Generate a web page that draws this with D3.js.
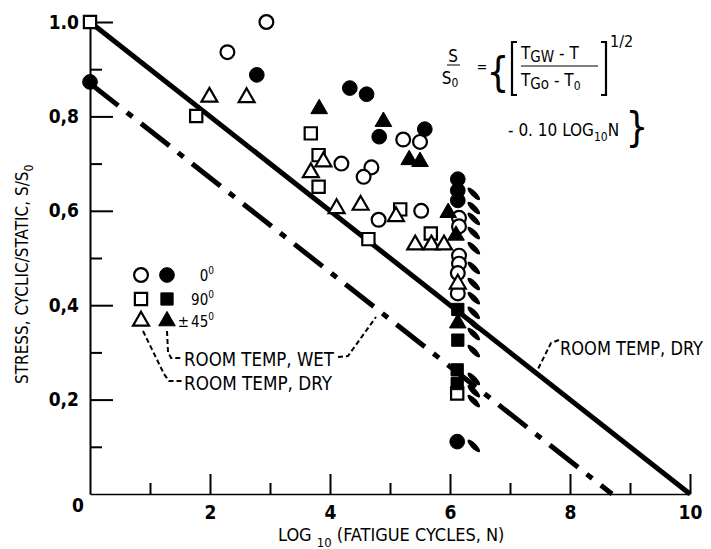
<!DOCTYPE html>
<html><head><meta charset="utf-8">
<script src="https://cdn.jsdelivr.net/npm/d3@7"></script>
<style>
body{margin:0;background:#fff}
svg{display:block}
text{font-family:"DejaVu Sans",sans-serif;font-stretch:condensed;fill:#000;font-weight:bold}
</style>
</head><body><svg id="c" width="711" height="549"></svg>
<script>
// ---- data ----
const xTicksMajor=[2,4,6,8,10];
const xTicksMinor=[1,3,5,7,9];
const yTicksMajor=[0.2,0.4,0.6,0.8,1.0];
const yTickLabels=["0,2","0,4","0,6","0,8","1.0"];
const yTicksMinor=[0.1,0.3,0.5,0.7,0.9];
const lineDry=[[0,1.0],[10,0]];
const lineWet=[[0,0.87],[8.7,0]];
// 0 deg, room temp dry (open circles)
const openCircle=[[2.94,1.0],[2.29,0.936],[4.19,0.700],[4.69,0.692],[4.56,0.672],[5.22,0.751],[5.50,0.746],[4.81,0.581],[5.52,0.600],[6.15,0.585],[6.15,0.567],[6.15,0.505],[6.15,0.488],[6.13,0.468],[6.13,0.425]];
// 0 deg, room temp wet (filled circles)
const filledCircle=[[0,0.873],[2.78,0.888],[4.33,0.860],[4.61,0.847],[4.82,0.757],[5.58,0.773],[6.13,0.667],[6.13,0.643],[6.13,0.622],[6.12,0.111]];
// 90 deg dry (open squares)
const openSquare=[[0,1.0],[1.77,0.801],[3.68,0.764],[3.81,0.718],[3.81,0.651],[4.64,0.540],[5.17,0.603],[5.68,0.552],[6.12,0.213]];
// 90 deg wet (filled squares)
const filledSquare=[[6.13,0.391],[6.13,0.326],[6.12,0.263],[6.12,0.234]];
// +-45 deg dry (open triangles)
const openTriangle=[[1.99,0.841],[2.61,0.840],[3.89,0.704],[3.68,0.681],[4.11,0.605],[4.51,0.612],[5.10,0.588],[5.42,0.528],[5.69,0.528],[5.90,0.528],[6.13,0.445]];
// +-45 deg wet (filled triangles)
const filledTriangle=[[3.82,0.816],[4.89,0.789],[5.32,0.708],[5.50,0.704],[5.97,0.596],[6.10,0.548],[6.13,0.362]];
// run-outs (no failure) at ~10^6.1 cycles
const runoutLogN=6.13;
const runoutStress=[0.638,0.608,0.585,0.555,0.523,0.481,0.447,0.417,0.386,0.362,0.341,0.305,0.246,0.220,0.199,0.104];
const legendPrefix=["","","\u00B1"];
const legendLabels=["0","90","45"];

// ---- chart ----
const svg=d3.select("#c");
const x=d3.scaleLinear().domain([0,10]).range([90,690]);
const y=d3.scaleLinear().domain([0,1]).range([494,22]);

// axes
const gx=svg.append("g").attr("transform",`translate(0,${y(0)})`)
  .call(d3.axisBottom(x).tickValues(xTicksMajor).tickSizeInner(-20).tickSizeOuter(0).tickPadding(12).tickFormat(d3.format("d")));
const gxm=svg.append("g").attr("transform",`translate(0,${y(0)})`)
  .call(d3.axisBottom(x).tickValues(xTicksMinor).tickSizeInner(-11).tickSizeOuter(0).tickFormat(""));
gxm.select(".domain").remove();
const gy=svg.append("g").attr("transform",`translate(${x(0)},0)`)
  .call(d3.axisLeft(y).tickValues(yTicksMajor).tickSizeInner(-23).tickSizeOuter(0).tickPadding(11).tickFormat((d,i)=>yTickLabels[i]));
const gym=svg.append("g").attr("transform",`translate(${x(0)},0)`)
  .call(d3.axisLeft(y).tickValues(yTicksMinor).tickSizeInner(-12).tickSizeOuter(0).tickFormat(""));
gym.select(".domain").remove();
[gx,gxm,gy,gym].forEach(g=>{
  g.attr("font-family",null);
  g.selectAll("line").attr("stroke","#000").attr("stroke-width",2);
  g.selectAll(".domain").attr("stroke","#000").attr("stroke-width",2);
  g.selectAll("text").style("font-size","19px").style("font-family",'"DejaVu Sans",sans-serif').style("font-stretch","condensed").style("font-weight","bold");
});
gx.select(".domain").attr("stroke-width",1.6);
svg.append("text").attr("x",x(0)-6).attr("y",y(0)+18).attr("text-anchor","end").style("font-size","19px").text("0");

// lines
const lg=d3.line().x(d=>x(d[0])).y(d=>y(d[1]));
svg.append("path").attr("d",lg(lineDry)).attr("fill","none").attr("stroke","#000").attr("stroke-width",5);
svg.append("path").attr("d",lg(lineWet)).attr("fill","none").attr("stroke","#000").attr("stroke-width",5)
  .attr("stroke-dasharray","36,11,7,11");

// runout arrows
svg.append("g").selectAll("ellipse").data(runoutStress).join("ellipse")
  .attr("cx",x(runoutLogN)+16).attr("cy",d=>y(d)+1).attr("rx",8.5).attr("ry",2.8)
  .attr("transform",d=>`rotate(45,${x(runoutLogN)+16},${y(d)+1})`).attr("fill","#000");

// markers
const series=[
  {data:openCircle,type:d3.symbolCircle,size:150,fill:false},
  {data:filledCircle,type:d3.symbolCircle,size:170,fill:true},
  {data:openSquare,type:d3.symbolSquare,size:150,fill:false},
  {data:filledSquare,type:d3.symbolSquare,size:150,fill:true},
  {data:openTriangle,type:d3.symbolTriangle,size:110,fill:false},
  {data:filledTriangle,type:d3.symbolTriangle,size:120,fill:true}
];
series.forEach(s=>{
  const sym=d3.symbol().type(s.type).size(s.size);
  svg.append("g").selectAll("path").data(s.data).join("path")
    .attr("d",sym).attr("transform",d=>`translate(${x(d[0])},${y(d[1])})`)
    .attr("fill",s.fill?"#000":"#fff").attr("stroke","#000").attr("stroke-width",s.fill?1:2.2);
});

// legend
const legRows=[{yy:275,o:series[0],f:series[1]},{yy:299,o:series[2],f:series[3]},{yy:321,o:series[4],f:series[5]}];
legRows.forEach((r,i)=>{
  [[141,r.o],[167,r.f]].forEach(([xx,s])=>{
    svg.append("path").attr("d",d3.symbol().type(s.type).size(s.size)()).attr("transform",`translate(${xx},${r.yy})`)
      .attr("fill",s.fill?"#000":"#fff").attr("stroke","#000").attr("stroke-width",s.fill?1:2.2);
  });
  const t=svg.append("text").attr("x",214).attr("y",r.yy+6).attr("text-anchor","end").style("font-size","15px").style("font-weight","normal");
  if(legendPrefix[i]) t.append("tspan").text(legendPrefix[i]);
  t.append("tspan").attr("dx",legendPrefix[i]?2:0).text(legendLabels[i]);
  t.append("tspan").attr("dy",-7).style("font-size","10px").text("0");
});
const dash={fill:"none",stroke:"#000","stroke-width":2,"stroke-dasharray":"5,3"};
function dpath(d){const p=svg.append("path").attr("d",d);Object.entries(dash).forEach(([k,v])=>p.attr(k,v));}
dpath("M167,331 L168,352 L171,358 L182,358");
dpath("M143,331 L164,374 L169,381 L182,381");
dpath("M338,357 L348,356 L376,317");
dpath("M559,340 L551,343 L537,371");
function lab(xx,yy,txt,len){svg.append("text").attr("x",xx).attr("y",yy).style("font-size","19px").style("font-weight","normal").attr("textLength",len).attr("lengthAdjust","spacingAndGlyphs").text(txt);}
lab(184,366,"ROOM TEMP, WET",150);
lab(184,390,"ROOM TEMP, DRY",148);
lab(560,355,"ROOM TEMP, DRY",143);

// axis titles
const xt=svg.append("text").attr("x",278).attr("y",541).style("font-size","18px").style("font-weight","normal");
xt.append("tspan").text("LOG ");
xt.append("tspan").attr("dy",6).style("font-size","13px").text("10");
xt.append("tspan").attr("dy",-6).text(" (FATIGUE CYCLES, N)");
const yt=svg.append("text").attr("transform","translate(28,384) rotate(-90)").style("font-size","17px").style("font-weight","normal");
yt.append("tspan").text("STRESS, CYCLIC/STATIC, S/S");
yt.append("tspan").attr("dy",5).style("font-size","12px").text("0");

// formula
const f=svg.append("g");
function ft(xx,yy,txt,fs,anchor){return f.append("text").attr("x",xx).attr("y",yy).attr("text-anchor",anchor||"start").style("font-size",(fs||17)+"px").style("font-weight","normal").text(txt);}
ft(453,62,"S",17,"middle");
f.append("line").attr("x1",447).attr("x2",460).attr("y1",65).attr("y2",65).attr("stroke","#000").attr("stroke-width",1);
const s0=ft(450,84,"S",17,"middle"); s0.append("tspan").attr("dy",3).style("font-size","12px").text("0");
ft(482,72,"=",14,"middle");
ft(498,86,"{",40,"middle");
f.append("path").attr("d","M517,42 L512,42 L512,95 L517,95").attr("fill","none").attr("stroke","#000").attr("stroke-width",2.2);
f.append("path").attr("d","M601,42 L606,42 L606,95 L601,95").attr("fill","none").attr("stroke","#000").attr("stroke-width",2.2);
const t1=ft(521,59,"T",17); t1.append("tspan").attr("dy",3).style("font-size","15px").text("GW"); t1.append("tspan").attr("dy",-3).text(" - T");
f.append("line").attr("x1",521).attr("x2",598).attr("y1",66).attr("y2",66).attr("stroke","#000").attr("stroke-width",1.2);
const t2=ft(521,86,"T",17); t2.append("tspan").attr("dy",3).style("font-size","15px").text("Go"); t2.append("tspan").attr("dy",-3).text(" - T"); t2.append("tspan").attr("dy",4).style("font-size","12px").text("0");
ft(610,47,"1/2",16);
const l2=ft(508,136,"- 0. 10 LOG",17); l2.append("tspan").attr("dy",5).style("font-size","12px").text("10"); l2.append("tspan").attr("dy",-5).text("N");
ft(637,141,"}",40,"middle");
</script>
</body></html>
